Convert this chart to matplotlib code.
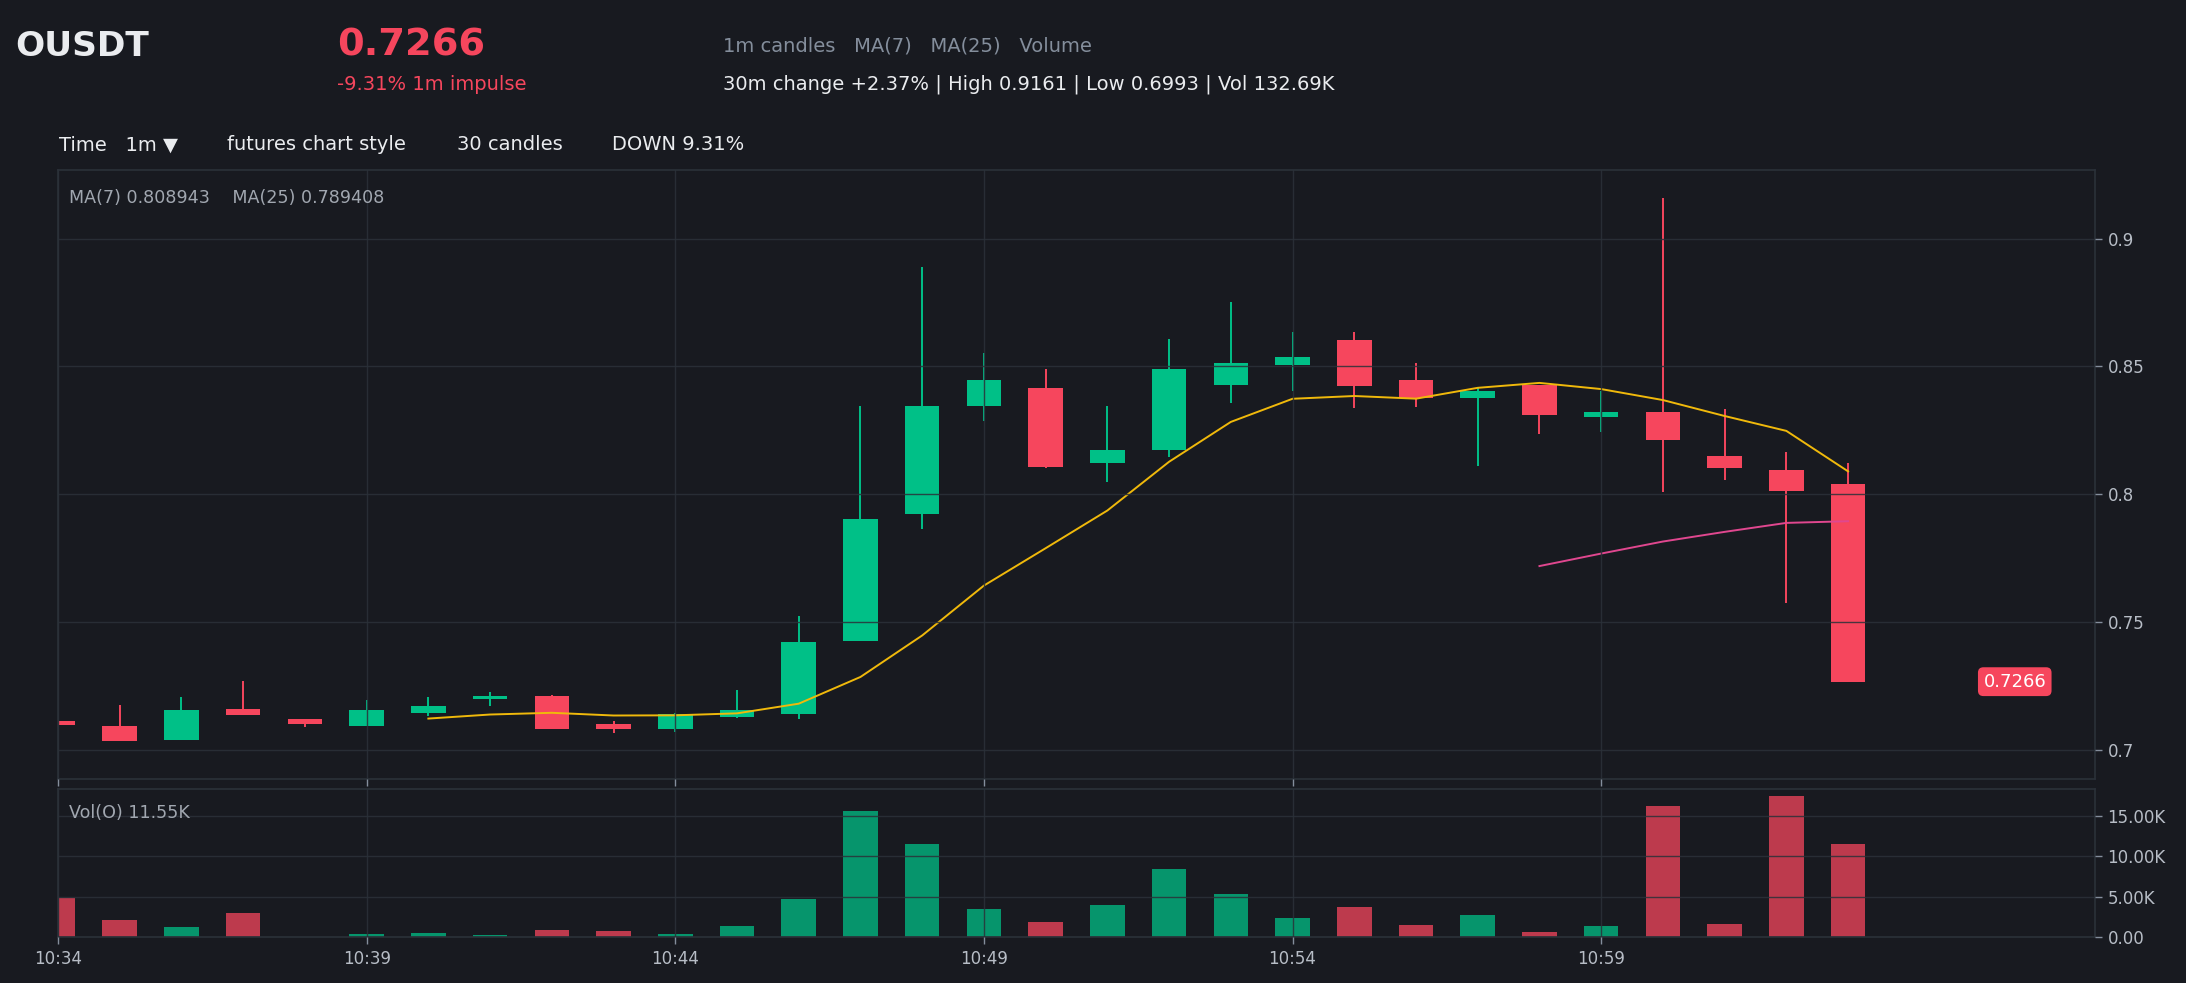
import numpy as np
import pandas as pd
import matplotlib
matplotlib.use("Agg")
import matplotlib.pyplot as plt
from matplotlib.ticker import FuncFormatter

# 1m candles, 10:34 .. 11:03
opens = [0.7113, 0.7091, 0.7039, 0.7158, 0.7119, 0.7093, 0.7144, 0.7197, 0.7209, 0.7099,
         0.7081, 0.7129, 0.7140, 0.7426, 0.7921, 0.8344, 0.8417, 0.8121, 0.8172, 0.8426,
         0.8504, 0.8605, 0.8448, 0.8375, 0.8426, 0.8301, 0.8322, 0.8150, 0.8095, 0.8040]
highs = [0.7115, 0.7174, 0.7205, 0.7268, 0.7120, 0.7194, 0.7205, 0.7225, 0.7212, 0.7113,
         0.7143, 0.7233, 0.7522, 0.8346, 0.8891, 0.8553, 0.8491, 0.8346, 0.8609, 0.8753,
         0.8636, 0.8636, 0.8512, 0.8416, 0.8428, 0.8405, 0.9161, 0.8335, 0.8166, 0.8121]
lows = [0.7096, 0.7032, 0.7037, 0.7135, 0.7090, 0.7092, 0.7132, 0.7172, 0.7080, 0.7065,
        0.7068, 0.7124, 0.7121, 0.7424, 0.7865, 0.8288, 0.8103, 0.8047, 0.8144, 0.8355,
        0.8405, 0.8336, 0.8340, 0.8109, 0.8234, 0.8242, 0.8009, 0.8054, 0.7575, 0.7266]
closes = [0.7098, 0.7034, 0.7155, 0.7136, 0.7101, 0.7155, 0.7172, 0.7209, 0.7081, 0.7081,
          0.7141, 0.7155, 0.7420, 0.7904, 0.8346, 0.8448, 0.8105, 0.8174, 0.8491, 0.8512,
          0.8538, 0.8422, 0.8375, 0.8402, 0.8309, 0.8322, 0.8211, 0.8101, 0.8014, 0.7266]
volumes = [4800, 2130, 1250, 3010, 60, 380, 500, 250, 880, 750,
           380, 1380, 4640, 15540, 11530, 3510, 1880, 4010, 8400, 5260,
           2380, 3680, 1500, 2760, 630, 1380, 16170, 1630, 17420, 11550]

tick_pos = [0, 5, 10, 15, 20, 25]
tick_labels = ["10:34", "10:39", "10:44", "10:49", "10:54", "10:59"]
price_ticks = [0.7, 0.75, 0.8, 0.85, 0.9]
vol_ticks = [0, 5000, 10000, 15000]

BG = "#181a20"
UP = "#00c087"
DOWN = "#f6465d"
GRID = "#2b3139"
GRAY = "#848e9c"
LIGHT = "#b7bdc6"
WHITE = "#eaecef"

W, H = 2186, 983
fig = plt.figure(figsize=(W / 200, H / 200), dpi=200, facecolor=BG)


def px(x, y):
    return x / W, 1 - y / H


ax = fig.add_axes([58 / W, 1 - 779 / H, (2095 - 58) / W, (779 - 170) / H], facecolor=BG)
axv = fig.add_axes([58 / W, 1 - 937 / H, (2095 - 58) / W, (937 - 789) / H], facecolor=BG)

x = np.arange(len(closes))
o = np.array(opens)
c = np.array(closes)
up = c >= o
cols = np.where(up, UP, DOWN)

body_lo = np.minimum(o, c)
body_h = np.maximum(np.abs(c - o), 0.0006)
ax.vlines(x, lows, highs, colors=cols, linewidth=0.7, zorder=1)
ax.bar(x, body_h, bottom=body_lo, width=0.56, color=cols, zorder=1.5)

ma7 = pd.Series(closes).rolling(7).mean()
ma25 = pd.Series(closes).rolling(25).mean()
ax.plot(x, ma7, color="#f0b90b", linewidth=0.7, zorder=2)
ax.plot(x, ma25, color="#e0478f", linewidth=0.7, zorder=2)

ax.set_xlim(0, 33)
ax.set_ylim(0.6885, 0.9269)
ax.set_yticks(price_ticks)
ax.yaxis.set_major_formatter(FuncFormatter(lambda v, p: f"{v:g}"))
ax.set_xticks(tick_pos)
ax.set_xticklabels([])

ax.text(31.7, closes[-1], f"{closes[-1]:.4f}", ha="center", va="center", color="white",
        fontsize=6.5, bbox=dict(boxstyle="round,pad=0.3", fc=DOWN, ec="none"), zorder=5)

axv.bar(x, volumes, width=0.56, color=cols, alpha=0.75, zorder=1)
axv.set_xlim(0, 33)
axv.set_ylim(0, max(volumes) * 1.05)
axv.set_yticks(vol_ticks)
axv.yaxis.set_major_formatter(FuncFormatter(lambda v, p: "0.00" if v == 0 else f"{v / 1000:.2f}K"))
axv.set_xticks(tick_pos)
axv.set_xticklabels(tick_labels)

for a in (ax, axv):
    a.set_axisbelow(False)
    a.grid(True, color=GRID, linewidth=0.5, alpha=0.85)
    a.yaxis.tick_right()
    a.tick_params(colors=GRAY, labelcolor=LIGHT, labelsize=6, length=2.5, width=0.5, pad=2)
    for s in a.spines.values():
        s.set_color(GRID)
        s.set_linewidth(0.6)

# header
fig.text(*px(15, 46), "OUSDT", color=WHITE, fontsize=12.4, fontweight="bold", va="center")
fig.text(*px(337, 46), "0.7266", color=DOWN, fontsize=13.8, fontweight="bold", va="center")
fig.text(*px(337, 84), "-9.31% 1m impulse", color=DOWN, fontsize=7, va="center")
fig.text(*px(723, 46), "1m candles   MA(7)   MA(25)   Volume", color=GRAY, fontsize=7, va="center")
fig.text(*px(723, 84), "30m change +2.37% | High 0.9161 | Low 0.6993 | Vol 132.69K",
         color=WHITE, fontsize=7, va="center")
fig.text(*px(59, 145), "Time   1m \u25bc", color=WHITE, fontsize=7, va="center")
fig.text(*px(227, 145), "futures chart style", color=WHITE, fontsize=7, va="center")
fig.text(*px(457, 145), "30 candles", color=WHITE, fontsize=7, va="center")
fig.text(*px(612, 145), "DOWN 9.31%", color=WHITE, fontsize=7, va="center")

fig.text(*px(69, 198), "MA(7) 0.808943    MA(25) 0.789408", color="#a1a7b0", fontsize=6.3, va="center")
fig.text(*px(69, 813), "Vol(O) 11.55K", color="#a1a7b0", fontsize=6.3, va="center")

fig.savefig("out.png", dpi=200, facecolor=BG)
